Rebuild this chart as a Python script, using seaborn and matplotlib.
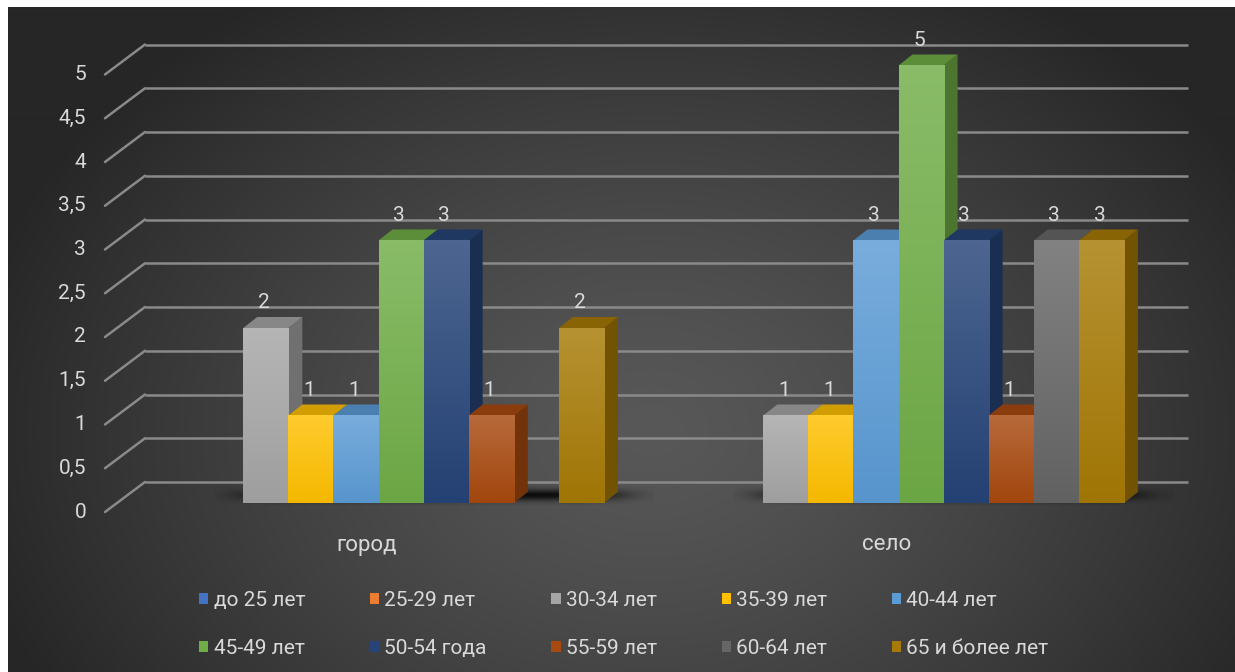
import numpy as np
import pandas as pd
import matplotlib
matplotlib.use("Agg")
import matplotlib.pyplot as plt
import seaborn as sns
from matplotlib.colors import to_rgb, LinearSegmentedColormap
from matplotlib.patches import Polygon

# data
categories = ["город", "село"]
age_groups = ["до 25 лет", "25-29 лет", "30-34 лет", "35-39 лет", "40-44 лет",
              "45-49 лет", "50-54 года", "55-59 лет", "60-64 лет", "65 и более лет"]
gorod = [0, 0, 2, 1, 1, 3, 3, 1, 0, 2]
selo = [0, 0, 1, 1, 3, 5, 3, 1, 3, 3]
y_ticks = [0, 0.5, 1, 1.5, 2, 2.5, 3, 3.5, 4, 4.5, 5]
y_labels = ["0", "0,5", "1", "1,5", "2", "2,5", "3", "3,5", "4", "4,5", "5"]
colors = ["#4472C4", "#ED7D31", "#A5A5A5", "#FFC000", "#5B9BD5",
          "#70AD47", "#264478", "#A8490F", "#666666", "#A67A05"]

df = pd.DataFrame({
    "place": np.repeat(categories, len(age_groups)),
    "age": age_groups * 2,
    "count": gorod + selo,
})

sns.set_theme(style="white")
plt.rcParams['font.family'] = ['Roboto', 'DejaVu Sans']
txt_col = "#D9D9D9"
fs = 15

W, H = 1235, 672
fig = plt.figure(figsize=(W / 100, H / 100), dpi=100)
fig.patch.set_facecolor("white")
ax = fig.add_axes([0, 0, 1, 1])

# pixel <-> data mapping (category 0 centre at px 378.5, 520 px per category,
# value 0 at py 503, 87.5 px per unit)
X0, XS, Y0, YS = 378.5, 520.0, 503.0, 87.5
def px(x):
    return (x - X0) / XS
def py(y):
    return (Y0 - y) / YS

sns.barplot(df, x="place", y="count", hue="age", hue_order=age_groups,
            palette=colors, saturation=1, width=0.867, errorbar=None,
            linewidth=0, ax=ax)

# background radial gradient
gx, gy = np.meshgrid(np.arange(8, W), np.arange(8, H))
r = np.sqrt(((gx - 650) / 700.0) ** 2 + ((gy - 430) / 520.0) ** 2)
shade = (0x58 - (0x58 - 0x26) * np.clip(r, 0, 1) ** 1.3) / 255.0
bg = np.dstack([shade, shade, shade])
ax.imshow(bg, extent=[px(8), px(W), py(H), py(8)], aspect="auto", zorder=0,
          interpolation="bilinear")

# grid: back lines + diagonal floor-to-wall lines
for v in y_ticks:
    yb = v + 21 / YS
    yf = v - 9 / YS
    ax.plot([px(145), px(1188)], [yb, yb], color="#8A8A8A", lw=1.8, zorder=1,
            solid_capstyle="butt")
    ax.plot([px(105), px(145)], [yf, yb], color="#8A8A8A", lw=1.8, zorder=1)

for v, lab in zip(y_ticks, y_labels):
    ax.text(px(86), v - 9 / YS, lab, ha="right", va="center", fontsize=fs,
            color=txt_col)

dx = 14 / XS
dy = 11 / YS

# floor shadows under each group
for i in range(len(categories)):
    bars = [c.patches[i] for c in ax.containers]
    left = bars[0].get_x() + 2 * bars[0].get_width() - 30 / XS
    right = bars[-1].get_x() + bars[-1].get_width() + 50 / XS
    sx = np.linspace(-1, 1, 200)
    sy = np.linspace(-1, 1, 30)
    SX, SY = np.meshgrid(sx, sy)
    a = np.exp(-(np.abs(SX) ** 8) * 3 - SY ** 2 * 3) * 0.85
    img = np.zeros((30, 200, 4))
    img[..., 3] = a
    ax.imshow(img, extent=[left, right, -0.02, 0.2], aspect="auto", zorder=2,
              interpolation="bilinear")

# 3-D look: gradient front, darker side and top faces
for j, cont in enumerate(ax.containers):
    base = np.array(to_rgb(colors[j]))
    z = 3 + j * 0.1
    for bar in cont.patches:
        h = bar.get_height()
        x0 = bar.get_x()
        x1 = x0 + bar.get_width()
        if h <= 0:
            bar.set_visible(False)
            continue
        bar.set_zorder(z + 0.03)
        side = Polygon([(x1, 0), (x1 + dx, dy), (x1 + dx, h + dy), (x1, h)],
                       closed=True, facecolor=base * 0.68, lw=0, zorder=z)
        top = Polygon([(x0, h), (x0 + dx, h + dy), (x1 + dx, h + dy), (x1, h)],
                      closed=True, facecolor=base * 0.82, lw=0, zorder=z + 0.01)
        ax.add_patch(side)
        ax.add_patch(top)
        light = np.clip(base + (1 - base) * 0.18, 0, 1)
        dark = base * 0.96
        cm = LinearSegmentedColormap.from_list("g%d" % j, [dark, light])
        grad = np.linspace(1, 0, 64).reshape(-1, 1)
        ax.imshow(grad, cmap=cm, extent=[x0, x1, 0, h], aspect="auto",
                  zorder=z + 0.04, interpolation="bilinear")
        ax.text(x0 + bar.get_width() / 2 - 2 / XS, h + 25 / YS, "%g" % h,
                ha="center", va="center", fontsize=fs, color=txt_col, zorder=10)

# category labels
for i, cat in enumerate(categories):
    ax.text(i - 12 / XS, py(545), cat, ha="center", va="center", fontsize=fs + 1,
            color=txt_col)

# legend in rows
handles, labels = ax.get_legend_handles_labels()
order = [0, 5, 1, 6, 2, 7, 3, 8, 4, 9]
leg = ax.legend([handles[k] for k in order], [labels[k] for k in order],
                ncol=5, frameon=False, loc="upper left",
                bbox_to_anchor=(199 / W, 1 - 591 / H), bbox_transform=fig.transFigure,
                fontsize=fs, handlelength=0.45, handleheight=0.45,
                handletextpad=0.25, columnspacing=3.1, labelspacing=1.4,
                borderpad=0, borderaxespad=0)
for t in leg.get_texts():
    t.set_color(txt_col)

ax.set_xlim(px(0), px(W))
ax.set_ylim(py(H), py(0))
ax.set_axis_off()

fig.savefig("out.png", dpi=100, facecolor="white")
